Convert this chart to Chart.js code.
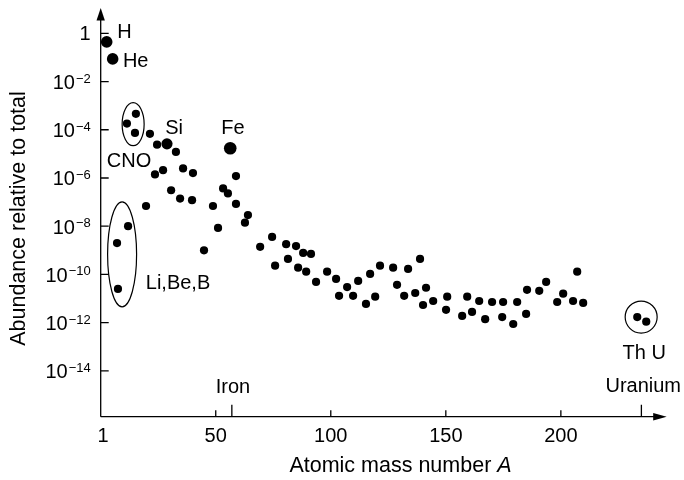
<!DOCTYPE html>
<html>
<head>
<meta charset="utf-8">
<script src="https://cdn.jsdelivr.net/npm/chart.js@4"></script>
<style>
    html, body { margin: 0; padding: 0; background: #fff; }
</style>
</head>
<body>
<canvas id="abundanceChart" width="684" height="480"></canvas>
<script>
// Puntos grandes con nombre: H, He, Si, Fe
var masaGrande = [2.6, 5.2, 28.8, 56.3];
var abundanciaGrande = [4.4e-1, 8.7e-2, 2.6e-5, 1.7e-5];

// Resto de los elementos (numero masico A, abundancia relativa)
var masa = [7.1, 7.5, 11.4, 11.9, 14.9, 15.3, 19.7, 21.4, 23.6, 24.5, 27.1, 30.6, 32.7, 34.5, 35.8,
    39.7, 40.1, 44.9, 48.8, 51.0, 53.2, 55.3, 58.8, 58.8, 62.7, 64.0, 69.3, 74.5, 75.8, 80.6,
    81.4, 84.9, 85.8, 88.0, 89.3, 91.4, 93.6, 98.4, 102.3, 103.6, 107.1, 109.7, 111.9, 115.3, 117.1,
    119.3, 121.4, 127.1, 128.8, 131.9, 133.6, 136.7, 138.8, 140.1, 141.4, 144.5, 150.1, 150.6, 157.1, 159.3,
    161.4, 164.5, 167.1, 170.1, 174.5, 174.9, 179.3, 181.0, 184.9, 185.3, 190.6, 193.6, 198.4, 201.0, 205.3,
    207.1, 209.7, 233.2, 237.1];
var abundancia = [2.0e-9, 2.5e-11, 1.8e-4, 1.0e-8, 7.4e-5, 4.6e-4, 6.9e-8, 6.8e-5, 1.4e-6, 2.4e-5, 2.1e-6, 3.1e-7, 1.2e-5, 1.4e-7, 2.5e-6,
    1.2e-7, 1.6e-6, 1.0e-9, 6.9e-8, 8.5e-9, 3.7e-7, 2.3e-7, 1.2e-6, 8.4e-8, 1.4e-8, 2.9e-8, 1.4e-9, 3.6e-9, 2.3e-10, 1.8e-9,
    4.4e-10, 1.5e-9, 1.9e-10, 7.8e-10, 1.3e-10, 7.1e-10, 4.9e-11, 1.3e-10, 6.5e-11, 1.3e-11, 3.0e-11, 1.3e-11, 5.4e-11, 6.0e-12, 1.05e-10,
    1.2e-11, 2.3e-10, 1.9e-10, 3.7e-11, 1.3e-11, 1.7e-10, 1.7e-11, 4.4e-10, 5.4e-12, 2.8e-11, 7.9e-12, 3.4e-12, 1.2e-11, 1.9e-12, 1.2e-11,
    2.8e-12, 7.9e-12, 1.4e-12, 7.2e-12, 1.7e-12, 7.2e-12, 8.8e-13, 7.2e-12, 2.3e-12, 2.3e-11, 2.1e-11, 4.9e-11, 7.2e-12, 1.6e-11, 7.9e-12,
    1.3e-10, 6.6e-12, 1.7e-12, 1.1e-12];

// Ejes
var xTicks = [50, 100, 150, 200];
var xTickLabels = ["50", "100", "150", "200"];
var yTicks = [1, 1e-2, 1e-4, 1e-6, 1e-8, 1e-10, 1e-12, 1e-14];
var yTickExp = ["", "\u22122", "\u22124", "\u22126", "\u22128", "\u221210", "\u221212", "\u221214"];
var hierroA = 57;
var uranioA = 235;

// Textos sobre la grafica (posicion en A y abundancia)
var notas = [
    { t: "H", a: 10.3, v: 1.05 },
    { t: "He", a: 15.2, v: 6.6e-2 },
    { t: "Si", a: 31.9, v: 1.1e-4 },
    { t: "Fe", a: 57.5, v: 1.1e-4 },
    { t: "CNO", a: 12.3, v: 4.7e-6 },
    { t: "Li,Be,B", a: 33.6, v: 4.1e-11 },
    { t: "Iron", a: 57.5, v: 2.0e-15 },
    { t: "Th U", a: 236.2, v: 5.5e-14 },
    { t: "Uranium", a: 235.8, v: 2.3e-15 }
];

// Elipses: CNO, Li-Be-B, Th-U
var grupos = [
    { a: 14.1, v: 1.7e-4, rx: 11, ry: 21.5 },
    { a: 9.3, v: 6.8e-10, rx: 14.5, ry: 52.5 },
    { a: 234.9, v: 1.7e-12, rx: 16, ry: 16 }
];

var FUENTE = '"Liberation Sans", Arial, sans-serif';

function puntos(xs, ys){
    return xs.map(function(x, i){ return { x: x, y: ys[i] }; });
}

var ejes = {
    id: 'ejes',
    afterDraw: function(chart){
        var c = chart.ctx;
        var sx = chart.scales.x;
        var sy = chart.scales.y;
        var area = chart.chartArea;
        var x0 = area.left, y0 = area.bottom;
        var i;

        c.save();
        c.strokeStyle = '#000';
        c.fillStyle = '#000';
        c.lineWidth = 1.3;

        // lineas de los ejes
        c.beginPath();
        c.moveTo(x0, y0);
        c.lineTo(x0, area.top + 10);
        c.moveTo(x0, y0);
        c.lineTo(area.right - 10, y0);
        c.stroke();

        // flechas
        c.beginPath();
        c.moveTo(x0, area.top);
        c.lineTo(x0 - 4.2, area.top + 12.5);
        c.lineTo(x0 + 4.2, area.top + 12.5);
        c.closePath();
        c.fill();
        c.beginPath();
        c.moveTo(area.right, y0);
        c.lineTo(area.right - 13.5, y0 - 3.8);
        c.lineTo(area.right - 13.5, y0 + 3.8);
        c.closePath();
        c.fill();

        // marcas eje x
        c.beginPath();
        for(i = 0; i < xTicks.length; i++){
            var px = sx.getPixelForValue(xTicks[i]);
            c.moveTo(px, y0);
            c.lineTo(px, y0 - 6.5);
        }
        [hierroA, uranioA].forEach(function(a){
            var p = sx.getPixelForValue(a);
            c.moveTo(p, y0);
            c.lineTo(p, y0 - 12);
        });
        // marcas eje y
        for(i = 0; i < yTicks.length; i++){
            var py = sy.getPixelForValue(yTicks[i]);
            c.moveTo(x0, py);
            c.lineTo(x0 + 8, py);
        }
        c.stroke();

        // etiquetas eje x
        c.font = '20px ' + FUENTE;
        c.textAlign = 'center';
        c.textBaseline = 'alphabetic';
        c.fillText("1", sx.getPixelForValue(1), y0 + 25.5);
        for(i = 0; i < xTicks.length; i++){
            c.fillText(xTickLabels[i], sx.getPixelForValue(xTicks[i]), y0 + 25.5);
        }

        // etiquetas eje y con exponente
        var derecha = x0 - 10;
        for(i = 0; i < yTicks.length; i++){
            var ty = sy.getPixelForValue(yTicks[i]);
            c.textAlign = 'right';
            if(yTickExp[i] === ""){
                c.font = '20px ' + FUENTE;
                c.fillText("1", derecha, ty + 7);
            } else {
                c.font = '13px ' + FUENTE;
                var w = c.measureText(yTickExp[i]).width;
                c.fillText(yTickExp[i], derecha, ty + 1);
                c.font = '20px ' + FUENTE;
                c.fillText("10", derecha - w - 1, ty + 7.5);
            }
        }

        // titulo eje x, con A en cursiva
        var texto = "Atomic mass number ";
        c.font = '21.5px ' + FUENTE;
        var w1 = c.measureText(texto).width;
        c.font = 'italic 21.5px ' + FUENTE;
        var w2 = c.measureText("A").width;
        var inicio = 400.5 - (w1 + w2) / 2;
        c.textAlign = 'left';
        c.font = '21.5px ' + FUENTE;
        c.fillText(texto, inicio, 472);
        c.font = 'italic 21.5px ' + FUENTE;
        c.fillText("A", inicio + w1, 472);

        // titulo eje y
        c.save();
        c.translate(25, 218.5);
        c.rotate(-Math.PI / 2);
        c.font = '21.5px ' + FUENTE;
        c.textAlign = 'center';
        c.fillText("Abundance relative to total", 0, 0);
        c.restore();

        // notas
        c.font = '20px ' + FUENTE;
        c.textAlign = 'center';
        c.textBaseline = 'middle';
        notas.forEach(function(n){
            c.fillText(n.t, sx.getPixelForValue(n.a), sy.getPixelForValue(n.v));
        });

        // elipses
        c.lineWidth = 1.2;
        grupos.forEach(function(g){
            c.beginPath();
            c.ellipse(sx.getPixelForValue(g.a), sy.getPixelForValue(g.v), g.rx, g.ry, 0, 0, Math.PI * 2);
            c.stroke();
        });

        c.restore();
    }
};

var ctx = document.getElementById('abundanceChart').getContext('2d');
var grafica = new Chart(ctx, {
    type: 'scatter',
    data: {
        datasets: [{
            data: puntos(masaGrande, abundanciaGrande),
            pointRadius: [5.8, 5.8, 5.6, 6.3],
            backgroundColor: '#000',
            borderWidth: 0
        }, {
            data: puntos(masa, abundancia),
            pointRadius: 4.1,
            backgroundColor: '#000',
            borderWidth: 0
        }]
    },
    options: {
        responsive: false,
        animation: false,
        devicePixelRatio: 1,
        layout: { padding: { left: 100.7, right: 17.3, top: 8, bottom: 63.3 } },
        plugins: {
            legend: { display: false },
            tooltip: { enabled: false }
        },
        scales: {
            x: { type: 'linear', display: false, min: 0, max: 246 },
            y: { type: 'logarithmic', display: false, min: Math.pow(10, -15.9), max: Math.pow(10, 1.05) }
        }
    },
    plugins: [ejes]
});
</script>
</body>
</html>
